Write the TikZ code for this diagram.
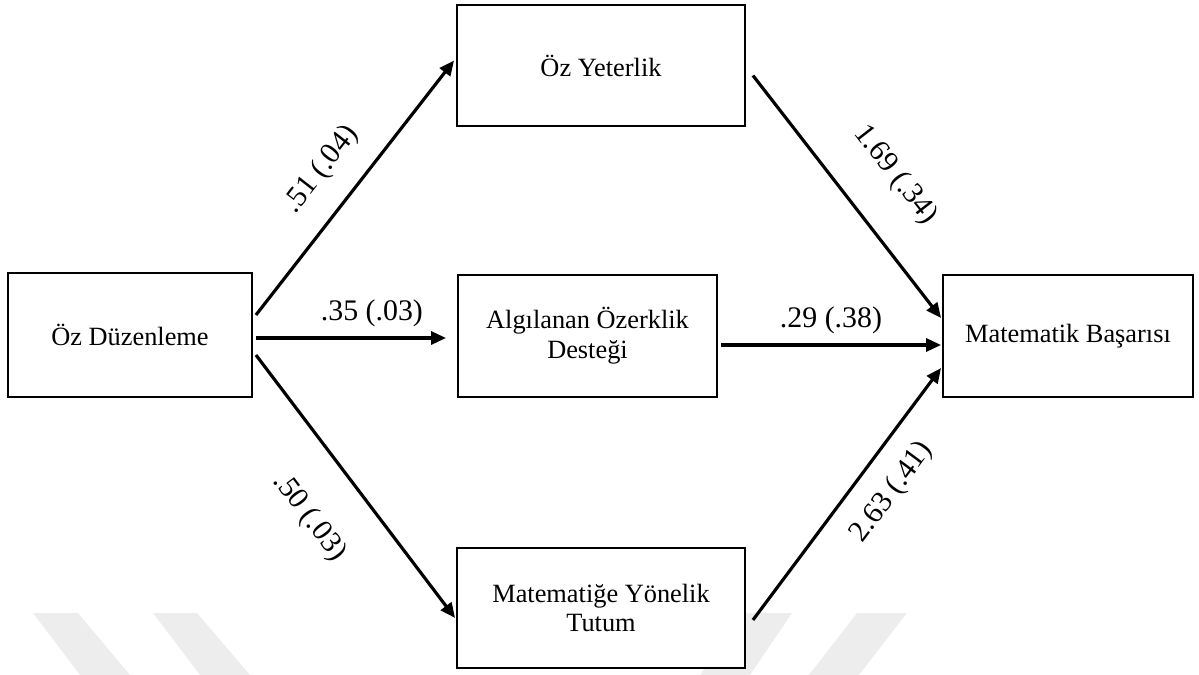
\documentclass[tikz,border=0pt]{standalone}
\usepackage{fontspec}
\setmainfont{Liberation Serif}
\usetikzlibrary{arrows.meta,calc}
\definecolor{wmgray}{HTML}{EDEDED}

\begin{document}
\begin{tikzpicture}[
    x=0.02cm, y=-0.02cm,
    every node/.style={font=\fontsize{15}{17}\selectfont},
    varbox/.style={rectangle, draw=black, line width=1.1pt, fill=white,
                 align=center, inner sep=2pt},
    pathlbl/.style={font=\fontsize{17}{20}\selectfont, sloped, inner sep=0pt},
    patharrow/.style={-{Triangle[length=0.3cm, width=0.26cm]}, line width=1.8pt},
    wmark/.style={fill=wmgray, draw=none},
]
\useasboundingbox (0,0) rectangle (1199,675);

% faint watermark bands
\fill[wmark] (33,613) -- (78,613) -- (130,675) -- (80,675) -- cycle;
\fill[wmark] (153,613) -- (197,613) -- (250,675) -- (200,675) -- cycle;
\fill[wmark] (743,613) -- (792,613) -- (750,675) -- (700,675) -- cycle;
\fill[wmark] (857,613) -- (907,613) -- (859,675) -- (809,675) -- cycle;

% variables
\node[varbox, minimum width=4.88cm, minimum height=2.48cm] (duz) at (130,335) {Öz Düzenleme};
\node[varbox, minimum width=5.76cm, minimum height=2.42cm] (yet) at (601,65.5) {Öz Yeterlik};
\node[varbox, minimum width=5.18cm, minimum height=2.44cm] (ozr) at (587.5,336) {Algılanan Özerklik\\Desteği};
\node[varbox, minimum width=5.76cm, minimum height=2.40cm] (tut) at (601,608) {Matematiğe Yönelik\\Tutum};
\node[varbox, minimum width=5.0cm, minimum height=2.44cm] (bas) at (1068,336) {Matematik Başarısı};

% paths from Öz Düzenleme
\draw[patharrow] ($(duz.east)+(3,-20)$) -- ($(yet.west)+(-2,-5)$)
    node[pathlbl, pos=0.48, above=0.45cm] {.51 (.04)};
\draw[patharrow] ($(duz.east)+(3,3)$) -- ($(ozr.west)+(-11,2)$)
    node[pathlbl, pos=0.61, above=0.19cm] {.35 (.03)};
\draw[patharrow] ($(duz.east)+(3,20)$) -- ($(tut.west)+(-1,10)$)
    node[pathlbl, pos=0.49, below=0.81cm] {.50 (.03)};

% paths to Matematik Başarısı
\draw[patharrow] ($(yet.east)+(7,10)$) -- ($(bas.west)+(-1,-18)$)
    node[pathlbl, pos=0.54, above=0.73cm] {1.69 (.34)};
\draw[patharrow] ($(ozr.east)+(3,9)$) -- ($(bas.west)+(-1,9)$)
    node[pathlbl, pos=0.5, above=0.19cm] {.29 (.38)};
\draw[patharrow] ($(tut.east)+(7,12)$) -- ($(bas.west)+(-1,32)$)
    node[pathlbl, pos=0.59, below=0.4cm] {2.63 (.41)};

\end{tikzpicture}
\end{document}
